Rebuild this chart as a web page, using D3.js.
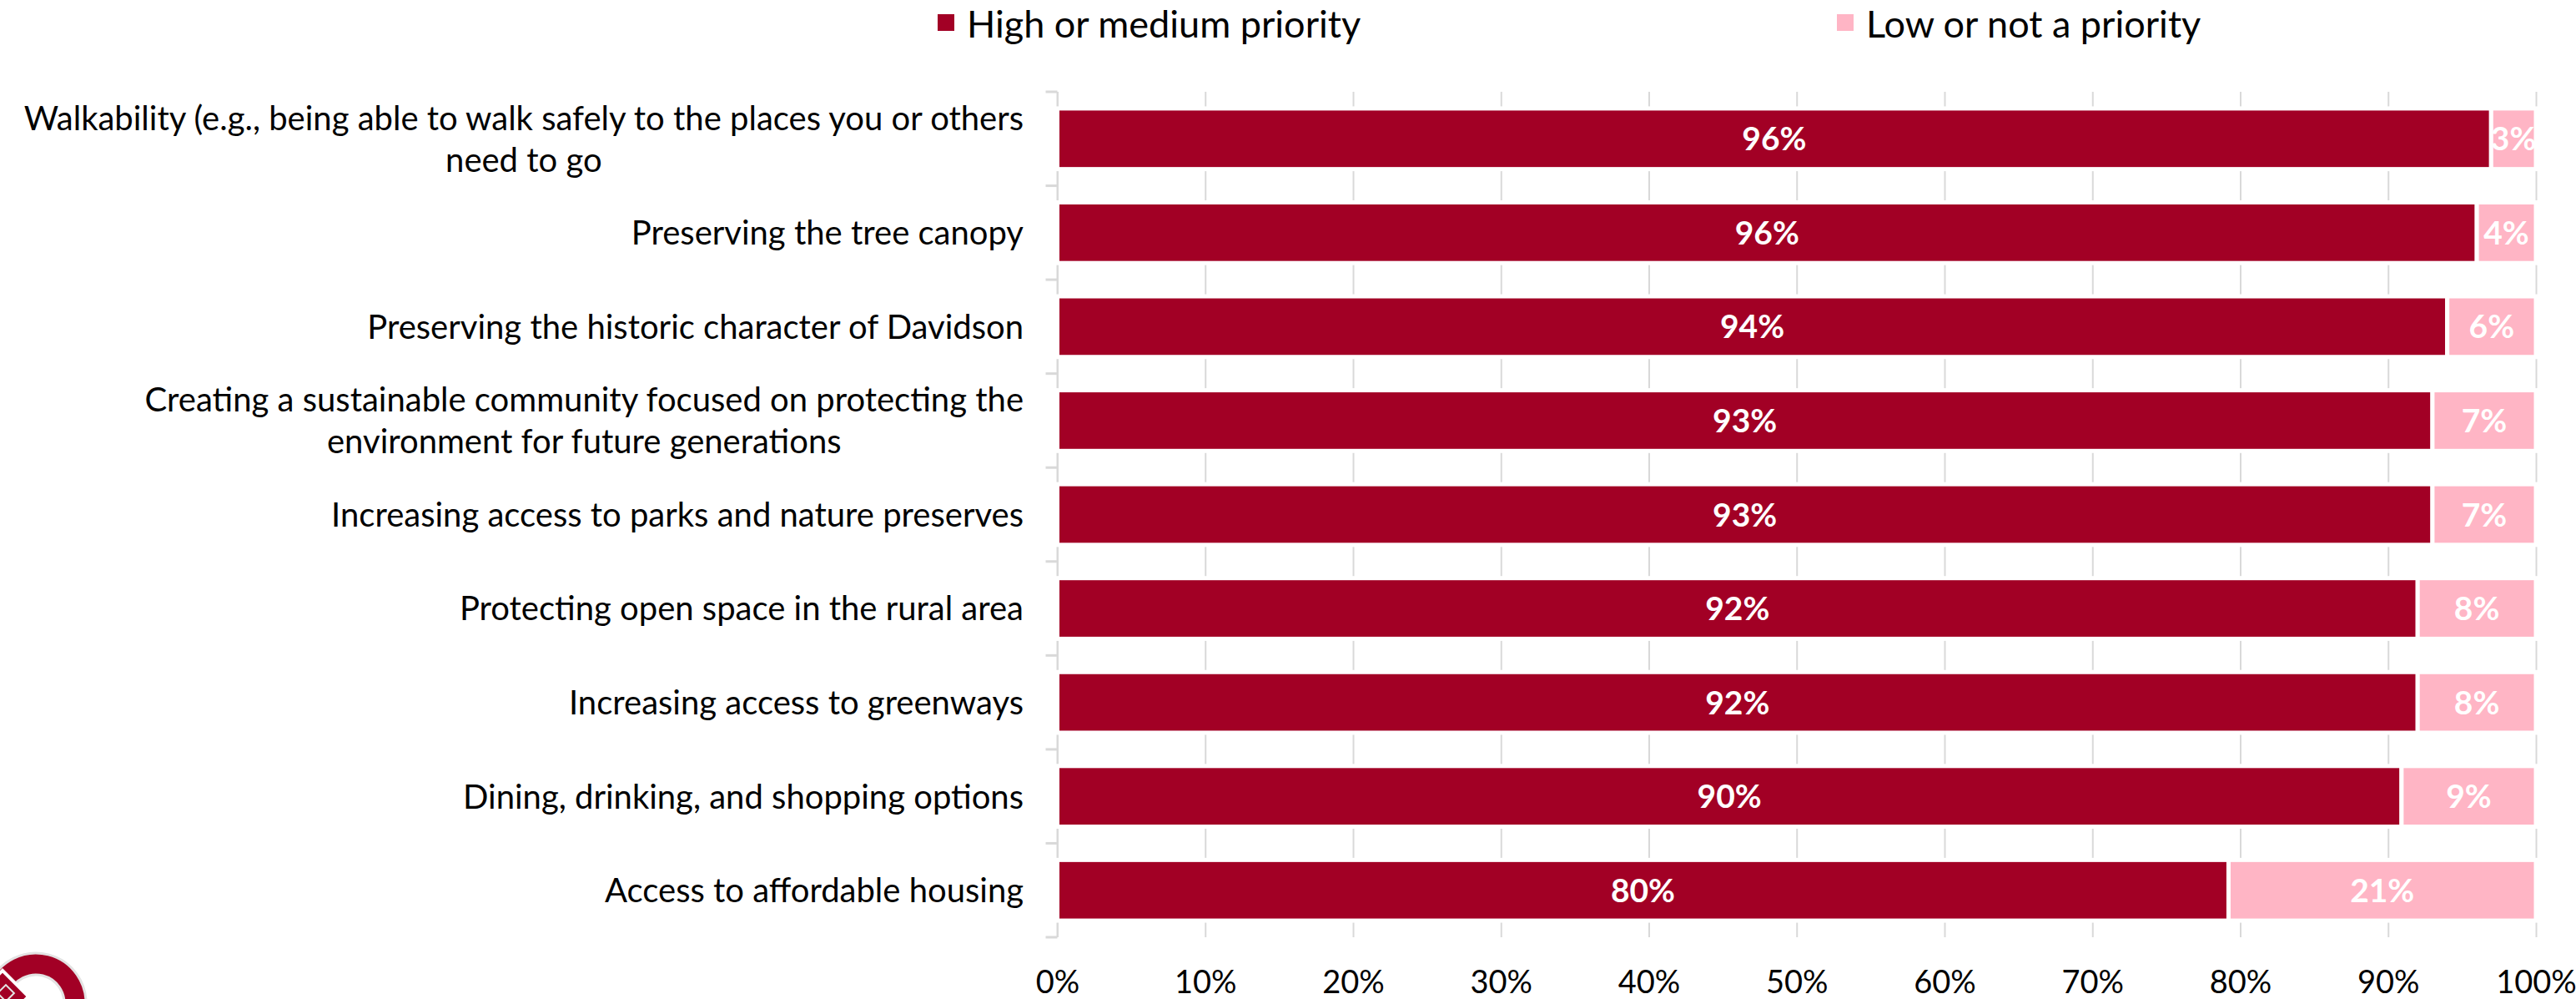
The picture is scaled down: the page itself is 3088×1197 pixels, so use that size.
<!DOCTYPE html>
<html>
<head>
<meta charset="utf-8">
<script src="https://cdn.jsdelivr.net/npm/d3@7"></script>
<style>
  html, body { margin: 0; padding: 0; background: #ffffff; }
  svg { display: block; font-family: Lato, "Open Sans", sans-serif; }
</style>
</head>
<body>
<svg id="chart" width="3088" height="1197"></svg>
<script>
// Survey priorities: share of respondents rating each item
const categories = [
  "Walkability (e.g., being able to walk safely to the places you or others\nneed to go",
  "Preserving the tree canopy",
  "Preserving the historic character of Davidson",
  "Creating a sustainable community focused on protecting the\nenvironment for future generations",
  "Increasing access to parks and nature preserves",
  "Protecting open space in the rural area",
  "Increasing access to greenways",
  "Dining, drinking, and shopping options",
  "Access to affordable housing"
];
const highPriority = [96, 96, 94, 93, 93, 92, 92, 90, 80];
const lowPriority  = [3, 4, 6, 7, 7, 8, 8, 9, 21];
const seriesKeys   = ["high", "low"];
const seriesNames  = ["High or medium priority", "Low or not a priority"];
const seriesColors = ["#A20025", "#FFB5C5"];
const xTickValues  = [0, 0.1, 0.2, 0.3, 0.4, 0.5, 0.6, 0.7, 0.8, 0.9, 1];

const LABEL_FS = 40, VALUE_FS = 39, TICK_FS = 38, LEGEND_FS = 45;
const svg = d3.select("#chart");

const rows = categories.map((c, i) => ({ category: c, high: highPriority[i], low: lowPriority[i] }));
const stacked = d3.stack().keys(seriesKeys).offset(d3.stackOffsetExpand)(rows);

const plotTop = 110, plotBottom = 1123, plotLeft = 1267.5, plotRight = 3040;
const x = d3.scaleLinear().domain([0, 1]).range([plotLeft, plotRight]);
const y = d3.scaleBand().domain(categories).range([plotTop, plotBottom])
  .paddingInner(0.354).paddingOuter(0.177);
const color = d3.scaleOrdinal().domain(seriesKeys).range(seriesColors);

// vertical gridlines
const grid = svg.append("g")
  .attr("transform", `translate(0,${plotBottom})`)
  .call(d3.axisBottom(x).tickValues(xTickValues).tickSize(-(plotBottom - plotTop)).tickFormat(""));
grid.select(".domain").remove();
grid.selectAll(".tick line").attr("stroke", "#d9d9d9").attr("stroke-width", 2);

// category axis line and band separators
svg.append("line")
  .attr("x1", plotLeft).attr("x2", plotLeft)
  .attr("y1", plotTop).attr("y2", plotBottom)
  .attr("stroke", "#d9d9d9").attr("stroke-width", 2);
const boundaries = d3.range(categories.length + 1).map(i => plotTop + i * y.step());
svg.append("g").selectAll("line").data(boundaries).join("line")
  .attr("x1", plotLeft - 14).attr("x2", plotLeft)
  .attr("y1", d => d).attr("y2", d => d)
  .attr("stroke", "#d9d9d9").attr("stroke-width", 3);

// stacked bars
const layers = svg.append("g").selectAll("g").data(stacked).join("g")
  .attr("fill", d => color(d.key));
layers.selectAll("rect").data(d => d).join("rect")
  .attr("x", d => x(d[0]))
  .attr("width", d => x(d[1]) - x(d[0]))
  .attr("y", d => y(d.data.category))
  .attr("height", y.bandwidth())
  .attr("stroke", "#ffffff").attr("stroke-width", 5);

// value labels
svg.append("g").selectAll("g").data(stacked).join("g")
  .selectAll("text").data(d => d.map(v => ({ v, key: d.key }))).join("text")
  .attr("x", d => (x(d.v[0]) + x(d.v[1])) / 2)
  .attr("y", d => y(d.v.data.category) + y.bandwidth() / 2 + VALUE_FS * 0.36)
  .attr("text-anchor", "middle")
  .attr("fill", "#ffffff")
  .attr("font-weight", 700)
  .attr("font-size", VALUE_FS)
  .text(d => d.v.data[d.key] + "%");

// category labels (right aligned block, lines centred within it)
const labelRight = 1227, lineGap = 50;
categories.forEach(c => {
  const lines = c.split("\n");
  const g = svg.append("g");
  const cy = y(c) + y.bandwidth() / 2;
  const texts = lines.map((ln, j) => g.append("text")
    .attr("font-size", LABEL_FS).attr("fill", "#000")
    .attr("y", cy + (j - (lines.length - 1) / 2) * lineGap + LABEL_FS * 0.36)
    .text(ln));
  const widths = texts.map(t => t.node().getComputedTextLength());
  const maxW = d3.max(widths);
  texts.forEach(t => t.attr("x", labelRight - maxW / 2).attr("text-anchor", "middle"));
});

// percentage axis labels
const xAxis = svg.append("g")
  .call(d3.axisBottom(x).tickValues(xTickValues).tickSize(0).tickFormat(d3.format(".0%")));
xAxis.select(".domain").remove();
xAxis.selectAll("text")
  .attr("y", 1190).attr("dy", null)
  .attr("font-size", TICK_FS).attr("font-family", "Lato, sans-serif").attr("fill", "#000");

// legend
const legendX = [1124, 2202];
const legend = svg.append("g").selectAll("g").data(seriesNames).join("g")
  .attr("transform", (d, i) => `translate(${legendX[i]},0)`);
legend.append("rect").attr("x", 0).attr("y", 17).attr("width", 20).attr("height", 20)
  .attr("fill", (d, i) => seriesColors[i]);
legend.append("text").attr("x", 35).attr("y", 45)
  .attr("font-size", LEGEND_FS).attr("fill", "#000").text(d => d);

// emblem peeking in at the lower-left corner
const emblem = svg.append("g").attr("transform", "translate(43,1202)");
emblem.append("path")
  .attr("d", d3.arc().innerRadius(34).outerRadius(60).startAngle(-1.9).endAngle(2.4)())
  .attr("fill", "#A20025").attr("stroke", "#e3e3e3").attr("stroke-width", 3);
emblem.append("rect")
  .attr("x", -22).attr("y", -22).attr("width", 44).attr("height", 44)
  .attr("transform", "translate(-40,-8) rotate(45)")
  .attr("fill", "#A20025").attr("stroke", "#ffffff").attr("stroke-width", 4);
emblem.append("rect")
  .attr("x", -7).attr("y", -7).attr("width", 14).attr("height", 14)
  .attr("transform", "translate(-36,-12) rotate(45)")
  .attr("fill", "none").attr("stroke", "#e3e3e3").attr("stroke-width", 2);
</script>
</body>
</html>
